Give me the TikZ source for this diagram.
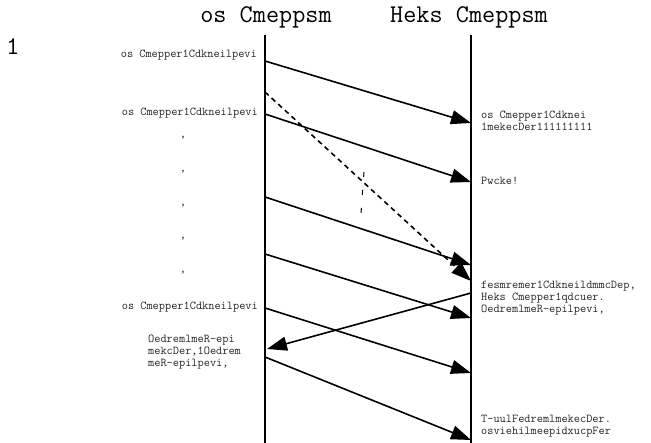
\documentclass[tikz,border=0pt]{standalone}
\usepackage{fontspec}
\usetikzlibrary{arrows.meta,positioning}
\tikzset{
    every node/.style={font=\ttfamily},
    lifeline/.style={line width=1.6pt, black},
    msgarrow/.style={
        line width=1.6pt, black,
        -{Triangle[length=20pt,width=14pt]}
    },
    lostarrow/.style={msgarrow, dash pattern=on 5pt off 4pt},
    headlabel/.style={
        font=\ttfamily\fontsize{25.5}{28}\selectfont, inner sep=0pt
    },
    msglabel/.style={
        font=\ttfamily\fontsize{12}{12}\selectfont, inner sep=0pt,
        align=left, text=black!85
    },
}

\begin{document}
\begin{tikzpicture}[x=1pt,y=-1pt]
    \useasboundingbox (0,0) rectangle (651,443);

    % Headers
    \node[headlabel] (cli) at (266,17) {os Cmeppsm};
    \node[headlabel] (srv) at (469,17) {Heks Cmeppsm};
    \node[headlabel] (num) at (13,47) {1};

    % Lifelines
    \coordinate (cliTop) at (265,35);
    \coordinate (cliBot) at (265,443);
    \coordinate (srvTop) at (471,35);
    \coordinate (srvBot) at (471,443);
    \draw[lifeline] (cliTop) -- (cliBot);
    \draw[lifeline] (srvTop) -- (srvBot);

    % Points on the client lifeline
    \coordinate (c1) at (265,61);
    \coordinate (c2) at (265,92);
    \coordinate (c3) at (265,114);
    \coordinate (c4) at (265,197);
    \coordinate (c5) at (265,254);
    \coordinate (c6) at (265,308);
    \coordinate (c7) at (267,349);
    \coordinate (c8) at (265,357);

    % Points on the server lifeline
    \coordinate (s1) at (471,123);
    \coordinate (s2) at (471,281);
    \coordinate (s3) at (471,182);
    \coordinate (s4) at (471,265);
    \coordinate (s5) at (471,318);
    \coordinate (s6) at (471,373);
    \coordinate (s7) at (471,293);
    \coordinate (s8) at (471,440);

    % Messages
    \draw[msgarrow] (c1) -- (s1);
    \draw[lostarrow] (c2) -- (s2);
    \draw[msgarrow] (c3) -- (s3);
    \draw[msgarrow] (c4) -- (s4);
    \draw[msgarrow] (c5) -- (s5);
    \draw[msgarrow] (c6) -- (s6);
    \draw[msgarrow] (s7) -- (c7);
    \draw[msgarrow] (c8) -- (s8);

    % Mark across the dashed message
    \coordinate (cutA) at (364,172);
    \coordinate (cutB) at (361,213);
    \draw[line width=1pt, dash pattern=on 5pt off 13pt] (cutA) -- (cutB);

    % Labels beside the client
    \node[msglabel, anchor=east] (l1) at (257,55) {os Cmepper1Cdkneilpevi};
    \node[msglabel, anchor=east] (l2) at (258,113) {os Cmepper1Cdkneilpevi};
    \node[msglabel, anchor=east] (l3) at (258,307) {os Cmepper1Cdkneilpevi};
    \node[msglabel, anchor=north west] (l4) at (148,335)
        {OedremlmeR-epi\\mekcDer,1Oedrem\\meR-epilpevi,};

    % Gap marks
    \foreach \y [count=\i] in {138,172,206,239,273}
        \node[msglabel] (gap\i) at (183,\y) {,};

    % Labels beside the server
    \node[msglabel, anchor=north west] (r1) at (481,111)
        {os Cmepper1Cdknei\\1mekecDer111111111};
    \node[msglabel, anchor=west] (r2) at (481,181) {Pwcke!};
    \node[msglabel, anchor=north west] (r3) at (481,281)
        {fesmremer1CdkneildmmcDep,\\Heks Cmepper1qdcuer.\\OedremlmeR-epilpevi,};
    \node[msglabel, anchor=north west] (r4) at (481,415)
        {T-uulFedremlmekecDer.\\osviehilmeepidxucpFer};
\end{tikzpicture}
\end{document}
